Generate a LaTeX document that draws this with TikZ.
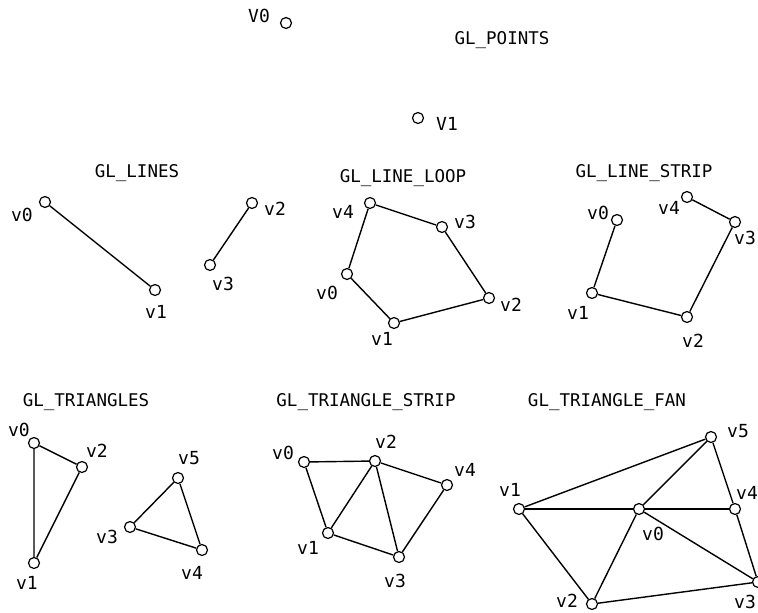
\documentclass[tikz,border=0pt]{standalone}
\usepackage{fontspec}
\setmonofont{DejaVu Sans Mono}
\usepackage{tikz}

\begin{document}
\begin{tikzpicture}[
    x=1pt, y=-1pt,
    vtx/.style={circle, draw, fill=white, inner sep=0pt, minimum size=11pt, line width=1.2pt},
    edge/.style={line width=1.4pt},
    ttl/.style={font=\ttfamily\fontsize{17.5}{20}\selectfont, inner sep=0pt},
    lbl/.style={font=\ttfamily\fontsize{18}{20}\selectfont, inner sep=0pt},
  ]
  \clip (0,0) rectangle (758,613);
  \fill[white] (0,0) rectangle (758,613);

  % GL_POINTS
  \node[ttl] (tpts) at (502,40) {GL\_POINTS};
  \node[vtx] (pt0) at (286,23) {};
  \node[vtx] (pt1) at (418,118) {};
  \node[lbl] (pt0l) at (259,16) {V0};
  \node[lbl] (pt1l) at (447,124) {V1};

  % GL_LINES
  \node[ttl] (tln) at (137,173) {GL\_LINES};
  \foreach \n/\x/\y in {0/45/202,1/155/290,2/252/203,3/210/265}
    \node[vtx] (ln\n) at (\x,\y) {};
  \foreach \n/\x/\y in {0/22/215,1/156/312,2/275/209,3/223/284}
    \node[lbl] (ln\n l) at (\x,\y) {v\n};
  \draw[edge] (ln0) -- (ln1) (ln2) -- (ln3);

  % GL_LINE_LOOP
  \node[ttl] (tlp) at (403,178) {GL\_LINE\_LOOP};
  \foreach \n/\x/\y in {0/347/274,1/394/323,2/489/298,3/442/227,4/370/203}
    \node[vtx] (lp\n) at (\x,\y) {};
  \foreach \n/\x/\y in {0/327/293,1/382/339,2/511/305,3/465/222,4/343/212}
    \node[lbl] (lp\n l) at (\x,\y) {v\n};
  \draw[edge] (lp0) -- (lp1) -- (lp2) -- (lp3) -- (lp4) -- (lp0);

  % GL_LINE_STRIP
  \node[ttl] (tls) at (644,173) {GL\_LINE\_STRIP};
  \foreach \n/\x/\y in {0/617/220,1/592/293,2/687/317,3/735/222,4/687/197}
    \node[vtx] (ls\n) at (\x,\y) {};
  \foreach \n/\x/\y in {0/598/213,1/578/313,2/693/341,3/745/238,4/669/208}
    \node[lbl] (ls\n l) at (\x,\y) {v\n};
  \draw[edge] (ls0) -- (ls1) -- (ls2) -- (ls3) -- (ls4);

  % GL_TRIANGLES
  \node[ttl] (ttr) at (86,402) {GL\_TRIANGLES};
  \foreach \n/\x/\y in {0/34/443,1/34/563,2/82/467,3/130/527,4/202/550,5/178/478}
    \node[vtx] (tr\n) at (\x,\y) {};
  \foreach \n/\x/\y in {0/19/430,1/27/583,2/97/451,3/107/537,4/192/573,5/189/458}
    \node[lbl] (tr\n l) at (\x,\y) {v\n};
  \draw[edge] (tr0) -- (tr1) -- (tr2) -- (tr0);
  \draw[edge] (tr3) -- (tr4) -- (tr5) -- (tr3);

  % GL_TRIANGLE_STRIP
  \node[ttl] (tts) at (366,402) {GL\_TRIANGLE\_STRIP};
  \foreach \n/\x/\y in {0/304/462,1/328/533,2/375/461,3/399/557,4/447/485}
    \node[vtx] (ts\n) at (\x,\y) {};
  \foreach \n/\x/\y in {0/283/453,1/308/548,2/386/442,3/395/581,4/465/470}
    \node[lbl] (ts\n l) at (\x,\y) {v\n};
  \draw[edge] (ts0) -- (ts1) -- (ts2) -- (ts0);
  \draw[edge] (ts1) -- (ts3) -- (ts2) -- (ts4) -- (ts3);

  % GL_TRIANGLE_FAN
  \node[ttl] (ttf) at (607,402) {GL\_TRIANGLE\_FAN};
  \foreach \n/\x/\y in {0/639/509,1/519/509,2/592/604,3/758/582,4/735/509,5/711/437}
    \node[vtx] (tf\n) at (\x,\y) {};
  \foreach \n/\x/\y in {0/653/534,1/510/490,2/567/601,3/745/602,4/747/493,5/738/431}
    \node[lbl] (tf\n l) at (\x,\y) {v\n};
  \draw[edge] (tf1) -- (tf2) -- (tf3) -- (tf4) -- (tf5) -- (tf1);
  \foreach \n in {1,...,5}
    \draw[edge] (tf0) -- (tf\n);

\end{tikzpicture}
\end{document}
